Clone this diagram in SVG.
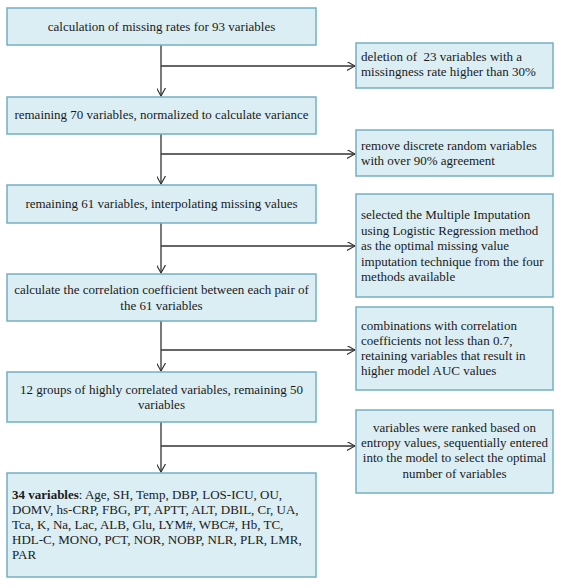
<svg xmlns="http://www.w3.org/2000/svg" width="561" height="588" viewBox="0 0 561 588">
<defs>
<style>
.box{fill:#dbeef4;stroke:#74afc2;stroke-width:1.5}
text{font-family:"Liberation Serif","Times New Roman",serif;font-size:13px;fill:#1a1a1a}
.c{text-anchor:middle}
.ln{stroke:#333;stroke-width:1.3;fill:none}
</style>
<marker id="ah" viewBox="0 0 10 10" refX="9" refY="5" markerWidth="9" markerHeight="9" markerUnits="userSpaceOnUse" orient="auto">
<path d="M0,0 L9,5 L0,10" fill="none" stroke="#333" stroke-width="1.3"/>
</marker>
</defs>
<rect width="561" height="588" fill="#fff"/>
<g id="connectors">
<line class="ln" x1="161" y1="45" x2="161" y2="96" marker-end="url(#ah)"/>
<line class="ln" x1="161" y1="66" x2="355" y2="66" marker-end="url(#ah)"/>
<line class="ln" x1="161" y1="134" x2="161" y2="184" marker-end="url(#ah)"/>
<line class="ln" x1="161" y1="154" x2="355" y2="154" marker-end="url(#ah)"/>
<line class="ln" x1="161" y1="223" x2="161" y2="273" marker-end="url(#ah)"/>
<line class="ln" x1="161" y1="246" x2="355" y2="246" marker-end="url(#ah)"/>
<line class="ln" x1="161" y1="321" x2="161" y2="371" marker-end="url(#ah)"/>
<line class="ln" x1="161" y1="350" x2="355" y2="350" marker-end="url(#ah)"/>
<line class="ln" x1="161" y1="422" x2="161" y2="472" marker-end="url(#ah)"/>
<line class="ln" x1="161" y1="446" x2="355" y2="446" marker-end="url(#ah)"/>
</g>
<g id="n1"><rect class="box" x="7" y="8" width="309" height="37"/><text class="c" x="161.5" y="31">calculation of missing rates for 93 variables</text></g>
<g id="n2"><rect class="box" x="7" y="97" width="309" height="37"/><text class="c" x="161.5" y="119">remaining 70 variables, normalized to calculate variance</text></g>
<g id="n3"><rect class="box" x="7" y="185" width="309" height="38"/><text class="c" x="161.5" y="208">remaining 61 variables, interpolating missing values</text></g>
<g id="n4"><rect class="box" x="7" y="274" width="309" height="47"/><text class="c" x="161.5" y="294">calculate the correlation coefficient between each pair of</text><text class="c" x="161.5" y="310">the 61 variables</text></g>
<g id="n5"><rect class="box" x="7" y="372" width="309" height="50"/><text class="c" x="161.5" y="394">12 groups of highly correlated variables, remaining 50</text><text class="c" x="161.5" y="409">variables</text></g>
<g id="n6"><rect class="box" x="7" y="473" width="309" height="104"/>
<text x="12" y="499"><tspan font-weight="bold">34 variables</tspan>: Age, SH, Temp, DBP, LOS-ICU, OU,</text>
<text x="12" y="514">DOMV, hs-CRP, FBG, PT, APTT, ALT, DBIL, Cr, UA,</text>
<text x="12" y="529">Tca, K, Na, Lac, ALB, Glu, LYM#, WBC#, Hb, TC,</text>
<text x="12" y="544">HDL-C, MONO, PCT, NOR, NOBP, NLR, PLR, LMR,</text>
<text x="12" y="559">PAR</text></g>
<g id="r1"><rect class="box" x="356" y="43" width="197" height="45"/><text x="361" y="61" style="white-space:pre">deletion of  23 variables with a</text><text x="361" y="76">missingness rate higher than 30%</text></g>
<g id="r2"><rect class="box" x="356" y="130" width="197" height="46"/><text x="361" y="150">remove discrete random variables</text><text x="361" y="165">with over 90% agreement</text></g>
<g id="r3"><rect class="box" x="356" y="194" width="197" height="103"/><text x="361" y="219">selected the Multiple Imputation</text><text x="361" y="234.5">using Logistic Regression method</text><text x="361" y="250">as the optimal missing value</text><text x="361" y="265.5">imputation technique from the four</text><text x="361" y="281">methods available</text></g>
<g id="r4"><rect class="box" x="356" y="307" width="197" height="83"/><text x="361" y="330">combinations with correlation</text><text x="361" y="345">coefficients not less than 0.7,</text><text x="361" y="360">retaining variables that result in</text><text x="361" y="375">higher model AUC values</text></g>
<g id="r5"><rect class="box" x="356" y="410" width="197" height="83"/><text class="c" x="454.5" y="432">variables were ranked based on</text><text class="c" x="454.5" y="447">entropy values, sequentially entered</text><text class="c" x="454.5" y="462">into the model to select the optimal</text><text class="c" x="454.5" y="478">number of variables</text></g>
</svg>
